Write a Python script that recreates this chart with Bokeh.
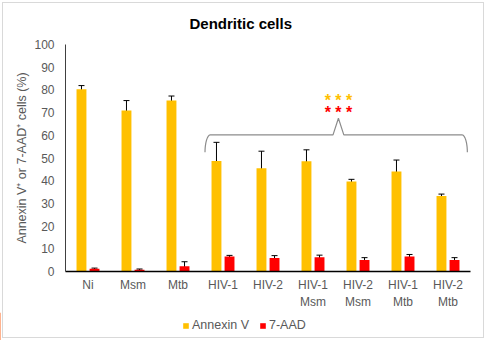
import numpy as np
from bokeh.plotting import figure
from bokeh.layouts import column
from bokeh.models import (ColumnDataSource, Range1d, Whisker, Label, Legend,
                          LegendItem, FixedTicker, LinearAxis)
from bokeh.embed import file_html
from bokeh.resources import INLINE

title = "Dendritic cells"
categories = ["Ni", "Msm", "Mtb", "HIV-1", "HIV-2", "HIV-1 Msm", "HIV-2 Msm", "HIV-1 Mtb", "HIV-2 Mtb"]
tick_line1 = ["Ni", "Msm", "Mtb", "HIV-1", "HIV-2", "HIV-1", "HIV-2", "HIV-1", "HIV-2"]
tick_line2 = ["", "", "", "", "", "Msm", "Msm", "Mtb", "Mtb"]
annexin = [80.3, 70.9, 75.3, 48.7, 45.5, 48.6, 39.6, 44.0, 33.3]
annexin_err = [1.6, 4.4, 2.0, 8.2, 7.5, 5.0, 1.0, 5.1, 0.8]
aad = [1.2, 0.8, 2.3, 6.6, 6.0, 6.3, 5.1, 6.6, 5.1]
aad_err = [0.3, 0.3, 2.0, 0.5, 1.0, 0.9, 1.0, 0.9, 1.0]
series_names = ["Annexin V", "7-AAD"]
series_colors = ["#FFC000", "#FF0000"]
y_ticks = list(range(0, 101, 10))
y_label = "Annexin V\u207a or 7-AAD\u207a cells (%)"
significance = "* * *"
bracket_from, bracket_to = 3, 8   # category indices spanned
bracket_level = 60.2
bracket_drop = 7.7
bracket_peak = 7.3

FONT = "Liberation Sans"
GRAY = "#595959"
EDGE = "linear-gradient(#d9d9d9,#d9d9d9)"

n = len(categories)
centers = [i + 0.5 for i in range(n)]
off = 0.145
w = 0.22

src = ColumnDataSource(dict(
    xa=[c - off for c in centers], xb=[c + off for c in centers],
    a=annexin, a_lo=[v - e for v, e in zip(annexin, annexin_err)], a_hi=[v + e for v, e in zip(annexin, annexin_err)],
    b=aad, b_lo=[v - e for v, e in zip(aad, aad_err)], b_hi=[v + e for v, e in zip(aad, aad_err)],
))

p = figure(width=486, height=312, x_range=Range1d(0, n), y_range=Range1d(0, 100),
           output_backend="svg", toolbar_location=None,
           min_border_left=65, min_border_right=16, min_border_top=44, min_border_bottom=41)
p.outline_line_color = None
p.border_fill_color = None
p.background_fill_color = None
p.xgrid.grid_line_color = None
p.ygrid.grid_line_color = None
p.styles = {"background": f"{EDGE} left 2px top 2px / 1px 100% no-repeat, "
                          f"{EDGE} right 2px top 2px / 1px 100% no-repeat, "
                          f"{EDGE} left 2px top 2px / calc(100% - 4px) 1px no-repeat, white"}

p.title.text = title
p.title.align = "left"
p.title.offset = 124
p.title.standoff = 25
p.title.text_font = FONT
p.title.text_font_size = "15px"
p.title.text_font_style = "bold"
p.title.text_color = "black"

r1 = p.vbar(x="xa", top="a", width=w, source=src, fill_color=series_colors[0], line_color=None)
r2 = p.vbar(x="xb", top="b", width=w, source=src, fill_color=series_colors[1], line_color=None)
for base, lo, hi in [("xa", "a_lo", "a_hi"), ("xb", "b_lo", "b_hi")]:
    wh = Whisker(base=base, lower=lo, upper=hi, source=src, line_color="black", line_width=1)
    wh.upper_head.size = 6
    wh.lower_head.size = 6
    wh.upper_head.line_color = "black"
    wh.lower_head.line_color = "black"
    p.add_layout(wh)

# axes
p.yaxis.ticker = FixedTicker(ticks=y_ticks)
p.yaxis.major_tick_line_color = None
p.yaxis.major_tick_out = 0
p.yaxis.minor_tick_line_color = None
p.yaxis.axis_line_color = "#404040"
p.yaxis.major_label_text_font = FONT
p.yaxis.major_label_text_font_size = "12px"
p.yaxis.major_label_text_color = GRAY
p.yaxis.major_label_standoff = 11
p.yaxis.axis_label = y_label
p.yaxis.axis_label_text_font = FONT
p.yaxis.axis_label_text_font_size = "12.5px"
p.yaxis.axis_label_text_font_style = "normal"
p.yaxis.axis_label_text_color = GRAY
p.yaxis.axis_label_standoff = 2

p.xaxis.ticker = FixedTicker(ticks=centers)
p.xaxis.major_tick_line_color = None
p.xaxis.major_tick_out = 0
p.xaxis.minor_tick_line_color = None
p.xaxis.axis_line_color = "black"
p.xaxis.axis_line_width = 1.5
p.xaxis.major_label_text_font = FONT
p.xaxis.major_label_text_font_size = "12px"
p.xaxis.major_label_text_color = GRAY
p.xaxis.major_label_standoff = 6
p.xaxis.major_label_overrides = {c: t for c, t in zip(centers, tick_line1)}

ax2 = LinearAxis(ticker=FixedTicker(ticks=centers),
                 major_label_overrides={c: (t if t else " ") for c, t in zip(centers, tick_line2)},
                 axis_line_color=None, major_tick_line_color=None, minor_tick_line_color=None,
                 major_tick_out=0, major_label_standoff=0, major_label_text_font=FONT,
                 major_label_text_font_size="12px", major_label_text_color=GRAY)
p.add_layout(ax2, "below")

# bracket (curly brace)
x0 = bracket_from + 0.1
x1 = bracket_to + 0.93
xm = (x0 + x1) / 2 + 0.05
cr = 0.12
t = np.linspace(0, np.pi / 2, 12)
left = np.column_stack([x0 + cr * (1 - np.cos(t)), bracket_level - bracket_drop * (1 - np.sin(t))])
mid1 = np.array([[xm - cr, bracket_level], [xm, bracket_level + bracket_peak]])
mid2 = np.array([[xm + cr, bracket_level]])
right = np.column_stack([x1 - cr * (1 - np.cos(t[::-1])), bracket_level - bracket_drop * (1 - np.sin(t[::-1]))])
pts = np.vstack([left, mid1, mid2, right])
p.line(pts[:, 0], pts[:, 1], line_color="#8c8c8c", line_width=1.2)

p.add_layout(Label(x=xm, y=bracket_level + bracket_peak + 2.5, text=significance, text_align="center",
                   text_baseline="middle", text_color=series_colors[1], text_font=FONT,
                   text_font_size="16px", text_font_style="bold"))
p.add_layout(Label(x=xm, y=bracket_level + bracket_peak + 7.8, text=significance, text_align="center",
                   text_baseline="middle", text_color=series_colors[0], text_font=FONT,
                   text_font_size="16px", text_font_style="bold"))

# legend strip below the chart
lg = figure(width=486, height=28, x_range=Range1d(0, 1), y_range=Range1d(0, 1),
            x_axis_type=None, y_axis_type=None,
            output_backend="svg", toolbar_location=None,
            min_border_left=0, min_border_right=0, min_border_top=0, min_border_bottom=0)
lg.frame_align = False
lg.grid.visible = False
lg.outline_line_color = None
lg.border_fill_color = None
lg.background_fill_color = None
lg.styles = {"background": f"{EDGE} left 2px top 0 / 1px calc(100% - 2px) no-repeat, "
                           f"{EDGE} right 2px top 0 / 1px calc(100% - 2px) no-repeat, "
                           f"{EDGE} left 2px bottom 2px / calc(100% - 4px) 1px no-repeat, white"}
g1 = lg.vbar(x=[-5], top=[1], width=0.1, fill_color=series_colors[0], line_color=None)
g2 = lg.vbar(x=[-5], top=[1], width=0.1, fill_color=series_colors[1], line_color=None)
legend = Legend(items=[LegendItem(label=series_names[0], renderers=[g1]),
                       LegendItem(label=series_names[1], renderers=[g2])],
                orientation="horizontal", location=(182, 8), padding=0, margin=0,
                spacing=10, glyph_width=7, glyph_height=7, label_standoff=3,
                label_text_font=FONT, label_text_font_size="12.5px", label_text_color=GRAY,
                background_fill_alpha=0, border_line_color=None)
lg.add_layout(legend, "center")

layout = column(p, lg, spacing=0)

open("out.html", "w").write(file_html(layout, INLINE))
